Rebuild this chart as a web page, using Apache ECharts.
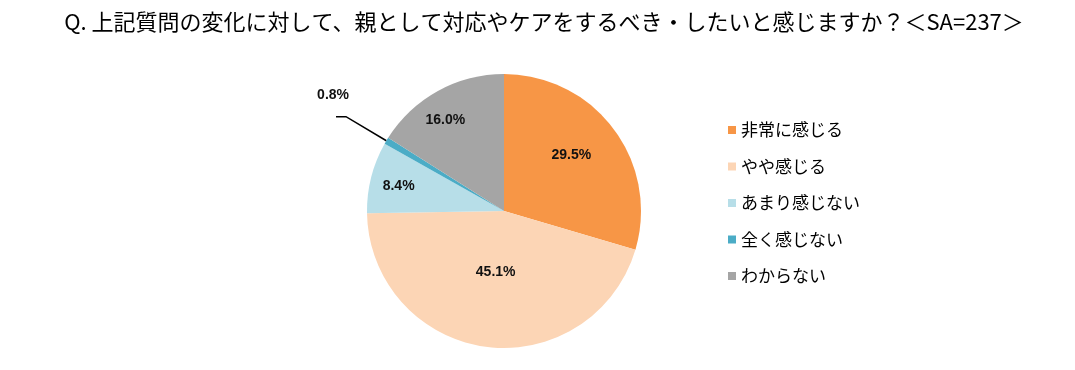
<!DOCTYPE html>
<html><head><meta charset="utf-8">
<script src="https://cdn.jsdelivr.net/npm/echarts@6/dist/echarts.min.js"></script>
<style>html,body{margin:0;padding:0;background:#fff}#c{width:1075px;height:370px}</style>
</head><body><div id="c"></div>
<script>
const titleText = 'Q. 上記質問の変化に対して、親として対応やケアをするべき・したいと感じますか？＜SA=237＞';
const categories = ['非常に感じる', 'やや感じる', 'あまり感じない', '全く感じない', 'わからない'];
const values = [29.5, 45.1, 8.4, 0.8, 16.0];
const colors = ['#F79646', '#FCD5B5', '#B7DEE8', '#4BACC6', '#A5A5A5'];

const cx = 504, cy = 211, R = 137;
const labelFactor = [0.64, 0.45, 0.79, 0, 0.79];
const labelAngleShift = [3, 0, 1, 0, 4];
const total = values.reduce((a, b) => a + b, 0);
const mids = [];
let acc = 0;
values.forEach(v => { mids.push(90 - (acc + v / 2) / total * 360); acc += v; });

const chart = echarts.init(document.getElementById('c'));
chart.setOption({
  animation: false,
  title: {
    text: titleText, left: 539, top: 6, textAlign: 'center',
    textStyle: { fontFamily: 'Noto Sans CJK JP', fontSize: 22, fontWeight: 'normal', color: '#000' }
  },
  legend: {
    orient: 'vertical', left: 723, top: 115, itemWidth: 8, itemHeight: 8, itemGap: 16.5,
    icon: 'rect',
    data: categories,
    textStyle: { fontFamily: 'Noto Sans CJK JP', fontSize: 17, color: '#000', lineHeight: 20, height: 20 }
  },
  series: [{
    type: 'pie',
    center: [cx, cy], radius: [0, R],
    startAngle: 90, clockwise: true,
    color: colors,
    itemStyle: { borderWidth: 0 },
    label: {
      show: true, position: 'inside',
      formatter: p => p.dataIndex === 3 ? '{v|' + p.value.toFixed(1) + '%}\n{s| }' : p.value.toFixed(1) + '%',
      fontFamily: 'Liberation Sans', fontWeight: 'bold', fontSize: 14, color: '#111',
      rich: {
        v: { fontFamily: 'Liberation Sans', fontWeight: 'bold', fontSize: 14, color: '#111', lineHeight: 15 },
        s: { fontSize: 10, lineHeight: 43 }
      }
    },
    labelLine: { show: false },
    labelLayout: function (p) {
      const i = p.dataIndex;
      if (i === 3) return {};
      const a = (mids[i] + labelAngleShift[i]) * Math.PI / 180;
      const r = R * labelFactor[i];
      return { x: cx + r * Math.cos(a), y: cy - r * Math.sin(a), align: 'center', verticalAlign: 'middle' };
    },
    emphasis: { disabled: true },
    data: categories.map((c, i) => {
      const d = { name: c, value: values[i] };
      if (i === 3) {
        d.label = { position: 'outside', distanceToLabelLine: -13 };
        d.labelLine = { show: true, length: 47, length2: 10, lineStyle: { color: '#000', width: 1.5 } };
      }
      return d;
    })
  }]
});
</script></body></html>
